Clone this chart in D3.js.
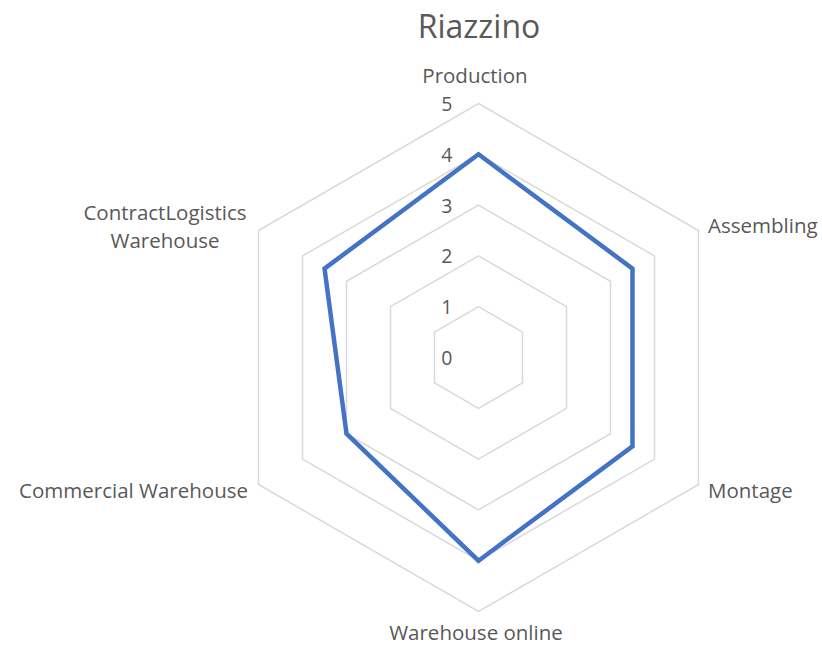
<!DOCTYPE html>
<html><head><meta charset="utf-8">
<script src="https://cdn.jsdelivr.net/npm/d3@7"></script>
<style>body{margin:0;background:#fff}svg{display:block}text{font-family:"Open Sans",sans-serif;fill:#595959}</style>
</head><body>
<script>
const title = "Riazzino";
const categories = ["Production","Assembling","Montage","Warehouse online","Commercial Warehouse","ContractLogistics Warehouse"];
const values = [4, 3.5, 3.5, 4, 3, 3.5];
const ticks = [0,1,2,3,4,5];

const W=822,H=647,cx=478.5,cy=357.5;
const svg=d3.select("body").append("svg").attr("width",W).attr("height",H);
const r=d3.scaleLinear().domain([0,5]).range([0,254]);
const ang=d3.scalePoint().domain(categories.map((d,i)=>i)).range([0,2*Math.PI*(categories.length-1)/categories.length]);
const pt=(i,v)=>[cx+r(v)*Math.sin(ang(i)),cy-r(v)*Math.cos(ang(i))];

svg.append("text").attr("x",479).attr("y",25).attr("text-anchor","middle").attr("dominant-baseline","central").attr("font-size",32).text(title);

const line=d3.line().curve(d3.curveLinearClosed);
svg.append("g").selectAll("path").data(ticks.filter(t=>t>0)).join("path")
 .attr("d",t=>line(categories.map((c,i)=>pt(i,t))))
 .attr("fill","none").attr("stroke","#d9d9d9").attr("stroke-width",1.5);

svg.append("g").selectAll("text").data(ticks).join("text")
 .attr("x",cx-26).attr("y",t=>cy-r(t)).attr("text-anchor","end").attr("dominant-baseline","central")
 .attr("font-size",19.5).text(t=>t);

svg.append("path").attr("d",line(values.map((v,i)=>pt(i,v))))
 .attr("fill","none").attr("stroke","#4472c4").attr("stroke-width",4.5).attr("stroke-linejoin","miter");

const labelPos=[
 {x:475,y:75,a:"middle",lines:["Production"]},
 {x:708,y:225,a:"start",lines:["Assembling"]},
 {x:708,y:490,a:"start",lines:["Montage"]},
 {x:476,y:632,a:"middle",lines:["Warehouse online"]},
 {x:248,y:490,a:"end",lines:["Commercial Warehouse"]},
 {x:165,y:212,a:"middle",lines:["ContractLogistics","Warehouse"]}
];
categories.forEach((c,i)=>{
 const p=labelPos[i];
 const t=svg.append("text").attr("text-anchor",p.a).attr("font-size",20.5);
 p.lines.forEach((l,k)=>t.append("tspan").attr("x",p.x).attr("y",p.y+k*28).attr("dominant-baseline","central").text(l));
});
</script>
</body></html>
